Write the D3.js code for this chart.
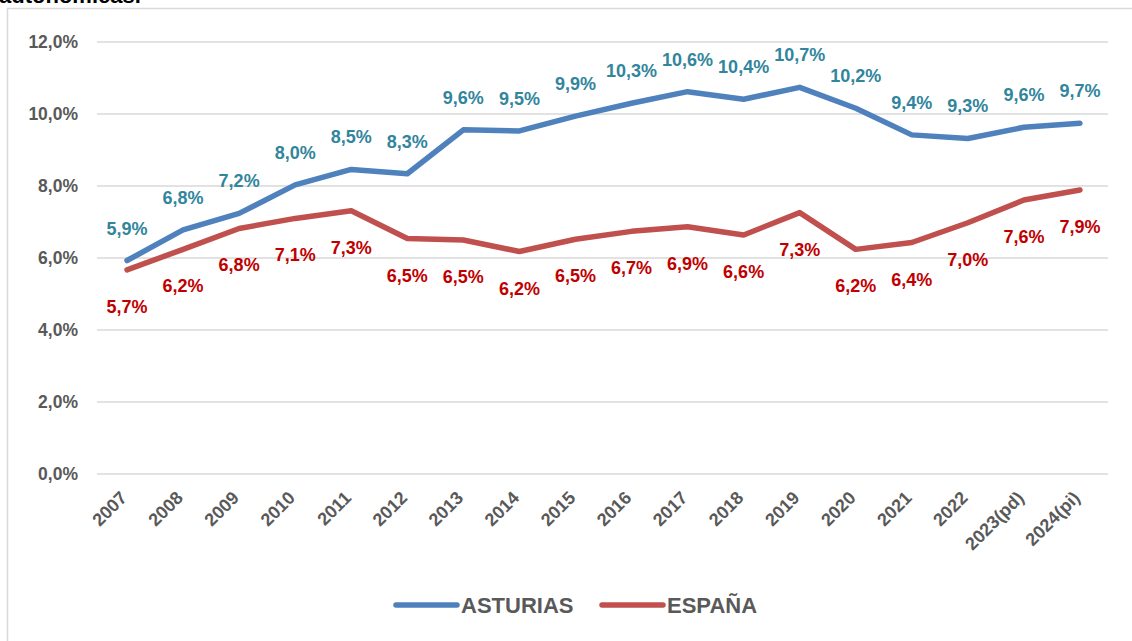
<!DOCTYPE html>
<html>
<head>
<meta charset="utf-8">
<script src="https://cdn.jsdelivr.net/npm/d3@7"></script>
<style>
  html, body { margin: 0; padding: 0; background: #fff; }
  svg text { font-family: "Liberation Sans", Arial, sans-serif; font-weight: bold; }
</style>
</head>
<body>
<script>

// categories and series
var years = ["2007","2008","2009","2010","2011","2012","2013","2014","2015",
             "2016","2017","2018","2019","2020","2021","2022","2023(pd)","2024(pi)"];

var asturias = [5.93, 6.78, 7.24, 8.03, 8.46, 8.34, 9.56, 9.53, 9.94,
                10.3, 10.62, 10.41, 10.74, 10.16, 9.42, 9.32, 9.63, 9.74];

var espana = [5.67, 6.24, 6.82, 7.1, 7.31, 6.54, 6.5, 6.18, 6.52,
              6.74, 6.87, 6.64, 7.26, 6.24, 6.43, 6.98, 7.61, 7.89];

var yTicks = [0, 2, 4, 6, 8, 10, 12];

var seriesNames = ["ASTURIAS", "ESPAÑA"];


var W = 1132, H = 641;

var svg = d3.select("body").append("svg")
            .attr("width", W)
            .attr("height", H);

// chart frame (only its top and left edges fall inside the picture)
svg.append("rect")
   .attr("x", 7.5).attr("y", 8.5)
   .attr("width", W + 20).attr("height", H + 20)
   .attr("fill", "#fff")
   .attr("stroke", "#d9d9d9")
   .attr("stroke-width", 1.5);

// title cut off at the top
svg.append("text")
   .attr("x", -1).attr("y", 3)
   .attr("font-size", 22)
   .attr("fill", "#000")
   .text("autonómicas.");

var x = d3.scaleBand()
          .domain(years)
          .range([99, 1108]);

var y = d3.scaleLinear()
          .domain([0, 12])
          .range([474, 42]);

var cx = function(d) { return x(d) + x.bandwidth() / 2; };
var fmt = function(v) { return v.toFixed(1).replace(".", ",") + "%"; };

/* gridlines + y labels */
var grid = svg.append("g").attr("class", "grid");

grid.selectAll("line")
    .data(yTicks)
    .enter().append("line")
    .attr("x1", 97).attr("x2", 1108)
    .attr("y1", function(d) { return y(d); })
    .attr("y2", function(d) { return y(d); })
    .attr("stroke", "#d9d9d9")
    .attr("stroke-width", 1.5);

grid.selectAll("text")
    .data(yTicks)
    .enter().append("text")
    .attr("x", 78)
    .attr("y", function(d) { return y(d) + 6; })
    .attr("text-anchor", "end")
    .attr("font-size", 17.5)
    .attr("fill", "#595959")
    .text(function(d) { return d.toFixed(1).replace(".", ",") + "%"; });

/* x labels, rotated */
svg.append("g").selectAll("text")
   .data(years)
   .enter().append("text")
   .attr("transform", function(d) { return "translate(" + (cx(d) + 1) + ",499) rotate(-45)"; })
   .attr("text-anchor", "end")
   .attr("font-size", 18)
   .attr("fill", "#595959")
   .text(function(d) { return d; });

/* lines */
var line = d3.line()
             .x(function(d, i) { return cx(years[i]); })
             .y(function(d) { return y(d); });

var series = [
  { name: seriesNames[0], values: asturias, stroke: "#4f81bd", label: "#31859c", dy: -26 },
  { name: seriesNames[1], values: espana,   stroke: "#c0504d", label: "#c00000", dy: 43 }
];

series.forEach(function(s) {

  svg.append("path")
     .datum(s.values)
     .attr("d", line)
     .attr("fill", "none")
     .attr("stroke", s.stroke)
     .attr("stroke-width", 5.5)
     .attr("stroke-linejoin", "round")
     .attr("stroke-linecap", "round");

  svg.append("g").selectAll("text")
     .data(s.values)
     .enter().append("text")
     .attr("x", function(d, i) { return cx(years[i]); })
     .attr("y", function(d) { return y(d) + s.dy; })
     .attr("text-anchor", "middle")
     .attr("font-size", 18)
     .attr("fill", s.label)
     .text(fmt);

});

/* legend */
var legX = [396, 602];

var leg = svg.append("g").selectAll("g")
             .data(series)
             .enter().append("g")
             .attr("transform", function(d, i) { return "translate(" + legX[i] + ",605)"; });

leg.append("line")
   .attr("x1", 0).attr("x2", 61)
   .attr("y1", 0).attr("y2", 0)
   .attr("stroke", function(d) { return d.stroke; })
   .attr("stroke-width", 5.5)
   .attr("stroke-linecap", "round");

leg.append("text")
   .attr("x", 65)
   .attr("y", 8)
   .attr("font-size", 22)
   .attr("fill", "#595959")
   .text(function(d) { return d.name; });

</script>
</body>
</html>
